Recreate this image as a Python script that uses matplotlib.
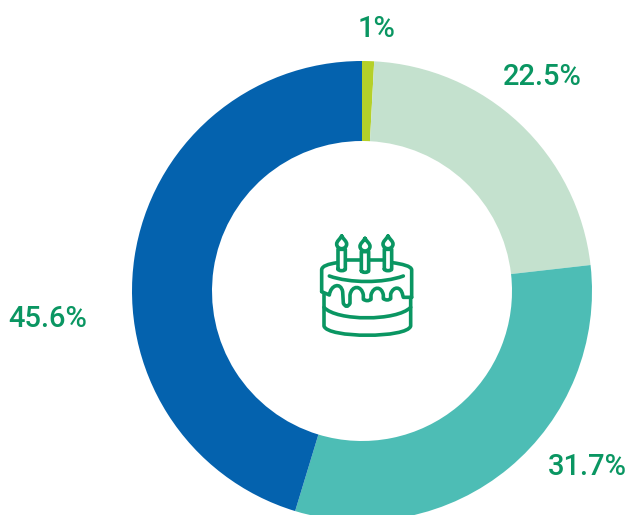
import matplotlib
matplotlib.use("Agg")
import matplotlib.pyplot as plt
from matplotlib.path import Path
from matplotlib.patches import PathPatch
import numpy as np

categories = ["lime", "pale", "teal", "blue"]
arc_shares = [0.85, 22.5, 31.7, 45.6]
labels = ["1%", "22.5%", "31.7%", "45.6%"]
colors = ["#B5D029", "#C4E1CE", "#4DBDB5", "#0462AE"]
label_xy = [(376, 26), (542, 74), (587, 464), (48, 316)]
TEXT = "#0A9662"
W, H = 627, 515

plt.rcParams['font.family'] = ['Roboto', 'DejaVu Sans']
fig = plt.figure(figsize=(W/100, H/100), dpi=100)
ax = fig.add_axes([0, 0, 1, 1])
ax.set_xlim(0, W); ax.set_ylim(H, 0); ax.axis('off')

# inverted y-axis turns the pie clockwise on screen
ax.pie(arc_shares, colors=colors, center=(362, 291), radius=230, startangle=-90,
       counterclock=True, wedgeprops=dict(width=80, linewidth=0), frame=False)
ax.set_xlim(0, W); ax.set_ylim(H, 0); ax.set_aspect('auto')

for s, (x, y) in zip(labels, label_xy):
    ax.text(x, y, s, color=TEXT, fontsize=21, fontweight='medium', ha='center', va='center_baseline')

# cake icon, in zoom-crop coordinates
def z(p):
    return (300 + p[0]/3, 220 + p[1]/3)

def stroke(cmds):
    verts, codes = [], []
    for c, *pts in cmds:
        for p in pts:
            verts.append(z(p))
        codes += {'M': [Path.MOVETO], 'L': [Path.LINETO], 'Q': [Path.CURVE3]*2,
                  'C': [Path.CURVE4]*3}[c]
    ax.add_patch(PathPatch(Path(verts, codes), fill=False, edgecolor=TEXT, lw=2.6,
                           capstyle='round', joinstyle='round'))

# candles and flames
for cx, top, bot in [(125, 88, 152), (195, 95, 157), (264, 88, 152)]:
    hw = 11
    stroke([('M', (cx-hw, bot-5)), ('L', (cx-hw, top)), ('L', (cx+hw, top)), ('L', (cx+hw, bot-5)),
            ('Q', (cx+hw, bot), (cx, bot)), ('Q', (cx-hw, bot), (cx-hw, bot-5))])
    f = top - 2
    stroke([('M', (cx, f-38)), ('C', (cx+6, f-28), (cx+15, f-22), (cx+15, f-14)),
            ('C', (cx+15, f-5), (cx+7, f), (cx, f)),
            ('C', (cx-7, f), (cx-15, f-5), (cx-15, f-14)),
            ('C', (cx-15, f-22), (cx-6, f-28), (cx, f-38))])

# top rim
stroke([('M', (112, 128)), ('C', (85, 132), (65, 138), (65, 150)), ('L', (65, 215))])
stroke([('M', (138, 120)), ('L', (182, 120))])
stroke([('M', (208, 120)), ('L', (250, 120))])
stroke([('M', (278, 128)), ('C', (305, 132), (335, 138), (335, 150)), ('L', (335, 232))])
# inner rim
stroke([('M', (88, 168)), ('C', (150, 190), (250, 190), (310, 168))])
# icing drips
stroke([('M', (65, 215)), ('L', (88, 225)),
        ('C', (92, 195), (122, 185), (128, 215)),
        ('L', (130, 250)), ('Q', (140, 268), (150, 250)),
        ('L', (150, 225)), ('C', (155, 195), (185, 195), (190, 225)),
        ('L', (190, 238)), ('Q', (202, 246), (213, 238)),
        ('L', (213, 225)), ('C', (220, 198), (245, 198), (250, 225)),
        ('L', (250, 236)), ('Q', (262, 244), (272, 236)),
        ('L', (272, 222)), ('C', (280, 198), (303, 198), (308, 225)),
        ('L', (310, 232)), ('L', (335, 232))])
# body
stroke([('M', (72, 222)), ('L', (72, 318)), ('C', (82, 355), (322, 355), (332, 318)), ('L', (332, 232))])
stroke([('M', (72, 262)), ('C', (110, 304), (290, 304), (332, 262))])

fig.savefig("out.png", dpi=100)
